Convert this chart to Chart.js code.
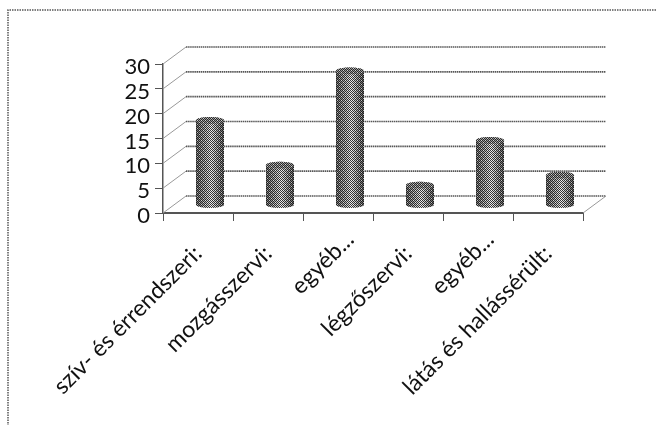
<!DOCTYPE html>
<html>
<head>
<meta charset="utf-8">
<style>
html, body { margin: 0; padding: 0; background: #fff; overflow: hidden; }
canvas { display: block; }
</style>
<script src="https://cdn.jsdelivr.net/npm/chart.js@4"></script>
</head>
<body>
<canvas id="chart" width="656" height="425"></canvas>
<script>
const categories = ["szív- és érrendszeri:", "mozgásszervi:", "egyéb...", "légzőszervi:", "egyéb...", "látás és hallássérült:"];
const values = [17, 8, 27, 4, 13, 6];
const yMax = 30;
const yStep = 5;

const lineColor = "#555";
const depthX = 23;
const depthY = 17;
const barRadius = 14;

// scanned print look: hard dark dots with a few white ones
function ditherPattern(ctx){
    const tile = document.createElement("canvas");
    tile.width = 4;
    tile.height = 4;
    const t = tile.getContext("2d");
    t.fillStyle = "rgba(10,10,10,0.8)";
    [[0, 0], [2, 0], [1, 1], [3, 1], [0, 2], [2, 2], [1, 3], [3, 3]].forEach(([x, y]) => t.fillRect(x, y, 1, 1));
    t.fillStyle = "rgba(255,255,255,0.55)";
    [[1, 0], [3, 2]].forEach(([x, y]) => t.fillRect(x, y, 1, 1));
    return ctx.createPattern(tile, "repeat");
}

function drawCylinder(ctx, cx, top, base, pattern){
    const left = cx - barRadius;
    const right = cx + barRadius;
    const ry = 3.5;

    const body = new Path2D();
    body.moveTo(left, top);
    body.lineTo(left, base);
    body.ellipse(cx, base, barRadius, ry, 0, Math.PI, 0, true);
    body.lineTo(right, top);
    body.ellipse(cx, top, barRadius, ry, 0, 0, Math.PI, true);
    body.closePath();

    const grad = ctx.createLinearGradient(left, 0, right, 0);
    grad.addColorStop(0, "#666");
    grad.addColorStop(0.3, "#aaa");
    grad.addColorStop(0.55, "#eee");
    grad.addColorStop(0.8, "#999");
    grad.addColorStop(1, "#555");
    ctx.fillStyle = grad;
    ctx.fill(body);
    ctx.fillStyle = pattern;
    ctx.fill(body);

    const lid = new Path2D();
    lid.ellipse(cx, top, barRadius, ry, 0, 0, Math.PI * 2);
    ctx.fillStyle = "#999";
    ctx.fill(lid);
    ctx.fillStyle = pattern;
    ctx.fill(lid);
}

const frame3d = {
    id: "frame3d",
    beforeDraw(chart){
        const { chartArea: a, scales: { x, y } } = chart;

        // nudge tick labels: the truncated ones sit further along their slant
        x.getLabelItems(a).forEach(item => {
            if(item.label === "egyéb..."){
                const [tx, ty] = item.options.translation;
                item.options.translation = [tx + 12, ty - 14];
            }
        });
        y.getLabelItems(a).forEach(item => {
            const [tx, ty] = item.options.translation;
            item.options.translation = [tx, ty + 3];
        });
    },
    beforeDatasetsDraw(chart){
        const { ctx, chartArea: a, scales: { y } } = chart;
        ctx.save();

        // scan border, top and left only
        ctx.strokeStyle = "#555";
        ctx.lineWidth = 1.5;
        ctx.setLineDash([1.5, 1]);
        ctx.beginPath();
        ctx.moveTo(chart.width, 10);
        ctx.lineTo(8, 10);
        ctx.lineTo(8, chart.height);
        ctx.stroke();

        // back wall lines and side wall diagonals
        y.ticks.forEach(tick => {
            const py = y.getPixelForValue(tick.value);
            ctx.strokeStyle = lineColor;
            ctx.lineWidth = 1.7;
            ctx.setLineDash([1.5, 0.6]);
            ctx.beginPath();
            ctx.moveTo(a.left + depthX, py - depthY);
            ctx.lineTo(a.right + depthX, py - depthY);
            ctx.stroke();
            ctx.setLineDash([]);
            ctx.lineWidth = 1;
            ctx.strokeStyle = "#999";
            ctx.beginPath();
            ctx.moveTo(a.left, py);
            ctx.lineTo(a.left + depthX, py - depthY);
            ctx.stroke();
        });

        // floor edge on the right
        ctx.lineWidth = 1;
        ctx.strokeStyle = "#999";
        ctx.beginPath();
        ctx.moveTo(a.right, a.bottom);
        ctx.lineTo(a.right + depthX, a.bottom - depthY);
        ctx.stroke();
        ctx.restore();
    },
    afterDatasetsDraw(chart){
        const { ctx } = chart;
        const pattern = ditherPattern(ctx);
        ctx.save();
        chart.getDatasetMeta(0).data.forEach(bar => {
            // cylinders stand halfway into the floor
            drawCylinder(ctx, bar.x + 12, bar.y - 8, bar.base - 8, pattern);
        });
        ctx.restore();
    }
};

new Chart(document.getElementById("chart"), {
    type: "bar",
    data: {
        labels: categories,
        datasets: [{
            data: values,
            backgroundColor: "rgba(0,0,0,0)",
            borderWidth: 0
        }]
    },
    options: {
        responsive: false,
        animation: false,
        devicePixelRatio: 1,
        layout: {
            autoPadding: false,
            padding: { left: 0, top: 64, right: 73, bottom: 0 }
        },
        plugins: {
            legend: { display: false },
            title: { display: false },
            tooltip: { enabled: false }
        },
        scales: {
            x: {
                afterFit: s => { s.height = 212; },
                border: { display: true, color: lineColor, width: 2, dash: [1.5, 0.6] },
                grid: {
                    display: true,
                    offset: true,
                    drawOnChartArea: false,
                    drawTicks: true,
                    tickLength: 8,
                    color: lineColor
                },
                ticks: {
                    autoSkip: false,
                    maxRotation: 45,
                    minRotation: 45,
                    padding: 19,
                    color: "#111",
                    font: { family: "Lato", size: 23 }
                }
            },
            y: {
                min: 0,
                max: yMax,
                afterFit: s => { s.width = 163; },
                border: { display: true, color: lineColor, width: 1.5, dash: [1.5, 0.6] },
                grid: {
                    display: true,
                    drawOnChartArea: false,
                    drawTicks: true,
                    tickLength: 8,
                    color: lineColor
                },
                ticks: {
                    autoSkip: false,
                    stepSize: yStep,
                    padding: 5,
                    color: "#111",
                    font: { family: "Lato", size: 22 }
                }
            }
        }
    },
    plugins: [frame3d]
});
</script>
</body>
</html>
